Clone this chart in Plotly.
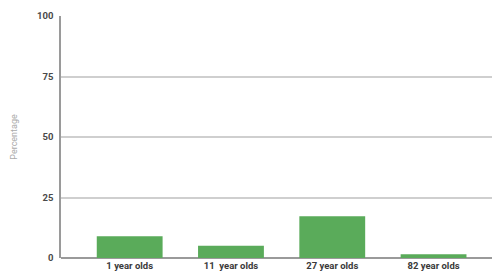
import plotly.graph_objects as go

categories = ["1 year olds", "11  year olds", "27 year olds", "82 year olds"]
values = [9.0, 5.1, 17.3, 1.6]
y_ticks = [0, 25, 50, 75, 100]

fig = go.Figure(go.Bar(
    x=list(range(len(categories))),
    y=values,
    marker=dict(color="#5aab5a", line=dict(width=0)),
    width=0.65,
))

fig.update_layout(
    width=492, height=277,
    margin=dict(l=61, r=0, t=16, b=19),
    paper_bgcolor="white", plot_bgcolor="white",
    showlegend=False,
    font=dict(family="Roboto", color="#444"),
    xaxis=dict(
        tickmode="array", tickvals=list(range(len(categories))), ticktext=categories,
        range=[-0.678, 3.577], showgrid=False, zeroline=False,
        showline=False, ticks="",
        tickfont=dict(size=9.5, color="#3a3a3a", family="Roboto", weight=700),
    ),
    yaxis=dict(
        range=[0, 100], tickvals=y_ticks, ticktext=[str(t) for t in y_ticks],
        showgrid=True, gridcolor="#cfcfcf", gridwidth=1.5,
        zeroline=True, zerolinecolor="#9a9a9a", zerolinewidth=1.5,
        showline=True, linecolor="#9a9a9a", linewidth=1.5,
        ticks="", ticklabelstandoff=4,
        tickfont=dict(size=9.5, color="#4a4a4a", family="Roboto", weight=700),
        title=dict(text="Percentage", font=dict(size=9, color="#aaaaaa"), standoff=18),
    ),
)

fig.write_html("out.html", config={"displayModeBar": False},
               post_script="document.body.style.margin='0';document.body.style.overflow='hidden';")
